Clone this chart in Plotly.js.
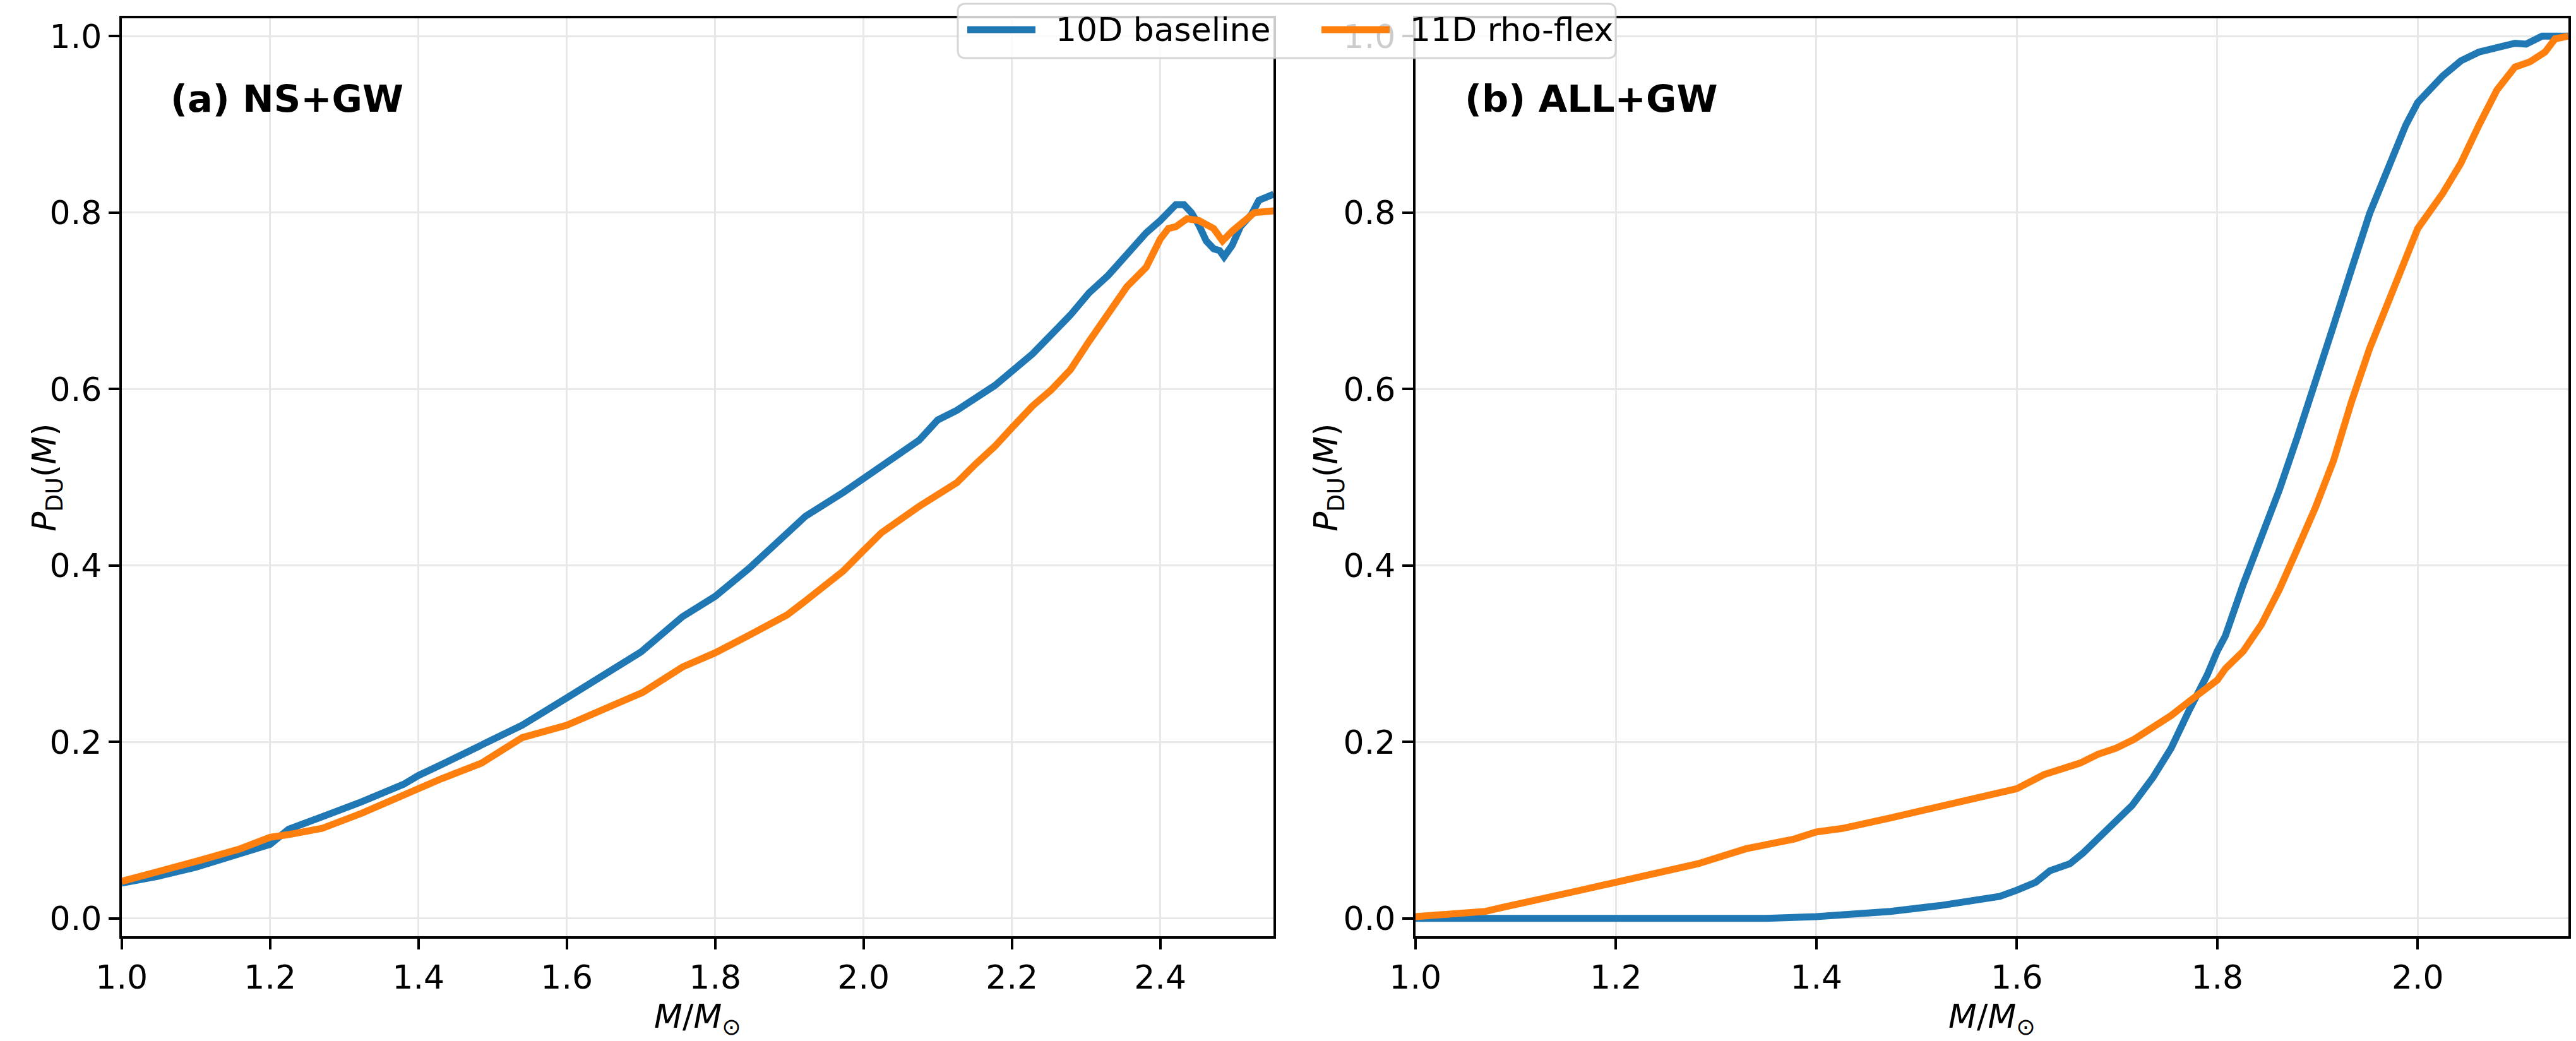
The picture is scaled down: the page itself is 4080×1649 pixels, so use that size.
<!DOCTYPE html>
<html>
<head>
<meta charset="utf-8">
<script src="https://cdn.plot.ly/plotly-3.0.1.min.js"></script>
<style>html,body{margin:0;padding:0;background:#fff;}#chart{width:4080px;height:1649px;}</style>
</head>
<body>
<div id="chart"></div>
<script>
// Panel (a) NS+GW
var nsBaseMass = [1.0,1.05,1.10,1.16,1.20,1.225,1.27,1.32,1.38,1.40,1.43,1.485,1.54,1.60,1.65,1.70,1.756,1.80,1.846,1.897,1.922,1.973,2.00,2.024,2.075,2.10,2.126,2.177,2.20,2.228,2.279,2.304,2.33,2.355,2.381,2.40,2.421,2.432,2.442,2.452,2.462,2.472,2.48,2.486,2.497,2.508,2.523,2.533,2.553];
var nsBaseP = [0.040,0.048,0.058,0.074,0.084,0.101,0.115,0.131,0.152,0.162,0.174,0.197,0.219,0.250,0.275,0.302,0.342,0.365,0.397,0.435,0.456,0.483,0.499,0.513,0.542,0.565,0.576,0.604,0.620,0.640,0.684,0.709,0.729,0.752,0.777,0.791,0.809,0.809,0.800,0.786,0.768,0.759,0.757,0.750,0.763,0.784,0.798,0.814,0.821];
var nsFlexMass = [1.0,1.05,1.106,1.16,1.20,1.225,1.27,1.323,1.377,1.40,1.43,1.485,1.54,1.60,1.648,1.702,1.756,1.80,1.846,1.897,1.922,1.973,2.00,2.024,2.075,2.126,2.151,2.177,2.20,2.228,2.253,2.279,2.304,2.33,2.355,2.381,2.40,2.411,2.421,2.436,2.452,2.472,2.484,2.497,2.512,2.527,2.553];
var nsFlexP = [0.042,0.0525,0.066,0.079,0.092,0.095,0.102,0.119,0.139,0.146,0.158,0.176,0.205,0.219,0.236,0.256,0.285,0.301,0.321,0.344,0.360,0.394,0.417,0.437,0.467,0.494,0.515,0.535,0.556,0.581,0.599,0.622,0.654,0.686,0.716,0.738,0.770,0.782,0.784,0.793,0.791,0.782,0.768,0.779,0.789,0.800,0.802];

// Panel (b) ALL+GW
var allBaseMass = [1.0,1.35,1.40,1.426,1.474,1.523,1.561,1.583,1.60,1.619,1.633,1.653,1.667,1.691,1.715,1.736,1.754,1.772,1.79,1.80,1.808,1.826,1.844,1.862,1.88,1.898,1.916,1.934,1.952,1.97,1.988,2.0,2.025,2.043,2.061,2.097,2.108,2.124,2.15];
var allBaseP = [0.0,0.0,0.002,0.004,0.008,0.0145,0.021,0.025,0.032,0.041,0.054,0.062,0.075,0.101,0.128,0.160,0.193,0.236,0.276,0.303,0.320,0.379,0.433,0.486,0.546,0.606,0.672,0.736,0.799,0.849,0.899,0.925,0.955,0.972,0.982,0.992,0.991,1.0,1.0];
var allFlexMass = [1.0,1.041,1.07,1.089,1.137,1.161,1.20,1.234,1.282,1.33,1.378,1.40,1.426,1.474,1.523,1.571,1.60,1.627,1.663,1.681,1.699,1.717,1.736,1.754,1.772,1.79,1.80,1.808,1.826,1.844,1.862,1.88,1.898,1.916,1.934,1.952,1.97,1.988,2.0,2.025,2.043,2.061,2.079,2.097,2.112,2.127,2.137,2.15];
var allFlexP = [0.002,0.005,0.008,0.013,0.024,0.031,0.041,0.049,0.062,0.079,0.090,0.098,0.102,0.114,0.127,0.140,0.147,0.163,0.176,0.186,0.193,0.203,0.216,0.230,0.246,0.260,0.270,0.283,0.303,0.333,0.373,0.419,0.466,0.519,0.586,0.646,0.699,0.752,0.782,0.822,0.856,0.899,0.939,0.965,0.971,0.982,0.997,1.0];

var seriesNames = ["10D baseline", "11D rho-flex"];
var panelTitles = ["(a) NS+GW", "(b) ALL+GW"];
var seriesColors = ["#1f77b4", "#ff7f0e"];
var FONT = "DejaVu Sans";
var W = 4080, H = 1649;

var traces = [
  {x: nsBaseMass, y: nsBaseP, type: "scatter", mode: "lines", name: seriesNames[0], legendgroup: "b",
   line: {color: seriesColors[0], width: 11}, xaxis: "x", yaxis: "y"},
  {x: nsFlexMass, y: nsFlexP, type: "scatter", mode: "lines", name: seriesNames[1], legendgroup: "f",
   line: {color: seriesColors[1], width: 11}, xaxis: "x", yaxis: "y"},
  {x: allBaseMass, y: allBaseP, type: "scatter", mode: "lines", name: seriesNames[0], legendgroup: "b",
   line: {color: seriesColors[0], width: 11}, xaxis: "x2", yaxis: "y2"},
  {x: allFlexMass, y: allFlexP, type: "scatter", mode: "lines", name: seriesNames[1], legendgroup: "f",
   line: {color: seriesColors[1], width: 11}, xaxis: "x2", yaxis: "y2"}
];

function axisBase() {
  return {
    showline: true, mirror: true, linecolor: "#000", linewidth: 4,
    ticks: "outside", ticklen: 17, tickwidth: 4, tickcolor: "#000",
    showgrid: true, gridcolor: "#e8e8e8", gridwidth: 3,
    zeroline: false, automargin: false,
    tickfont: {family: FONT, size: 52, color: "#000"},
    tickformat: ".1f", dtick: 0.2, tick0: 0
  };
}
var xa = Object.assign(axisBase(), {domain: [0.04723, 0.49446], range: [1.0, 2.553], anchor: "y"});
var ya = Object.assign(axisBase(), {domain: [0.1008, 0.9822], range: [-0.02, 1.02], anchor: "x"});
var xb = Object.assign(axisBase(), {domain: [0.54944, 0.99713], range: [1.0, 2.1505], anchor: "y2"});
var yb = Object.assign(axisBase(), {domain: [0.1008, 0.9822], range: [-0.02, 1.02], anchor: "x2"});

var ylab = "<i>P</i><sub>DU</sub>(<i>M</i>)";
var xlab = "<i>M</i>/<i>M</i><sub>⊙</sub>";

function px(v) { return v / W; }
function py(v) { return 1 - v / H; }

var annotations = [
  {text: "<b>" + panelTitles[0] + "</b>", xref: "x domain", yref: "y domain", x: 0.0415, y: 0.9128,
   xanchor: "left", yanchor: "middle", showarrow: false, font: {family: FONT, size: 59, color: "#000"}},
  {text: "<b>" + panelTitles[1] + "</b>", xref: "x2 domain", yref: "y2 domain", x: 0.0415, y: 0.9128,
   xanchor: "left", yanchor: "middle", showarrow: false, font: {family: FONT, size: 59, color: "#000"}},
  {text: xlab, xref: "paper", yref: "paper", x: 0.2708, y: py(1614), xanchor: "center", yanchor: "middle",
   showarrow: false, font: {family: FONT, size: 52, color: "#000"}},
  {text: xlab, xref: "paper", yref: "paper", x: 0.7733, y: py(1614), xanchor: "center", yanchor: "middle",
   showarrow: false, font: {family: FONT, size: 52, color: "#000"}},
  {text: ylab, xref: "paper", yref: "paper", x: px(74), y: 0.5415, xanchor: "center", yanchor: "middle",
   textangle: -90, showarrow: false, font: {family: FONT, size: 52, color: "#000"}},
  {text: ylab, xref: "paper", yref: "paper", x: px(2104), y: 0.5415, xanchor: "center", yanchor: "middle",
   textangle: -90, showarrow: false, font: {family: FONT, size: 52, color: "#000"}}
];

// Figure legend (upper centre, two columns, matplotlib-style rounded frame)
var lgBox = {x0: 1517, x1: 2559, y0: 6, y1: 92, r: 12};
var lgItems = [
  {lx0: 1532, lx1: 1640, tx: 1670},
  {lx0: 2093, lx1: 2201, tx: 2231}
];
var lgMidY = 47;
function roundedPath(b) {
  var r = b.r;
  function P(x, y) { return px(x) + "," + py(y); }
  return "M" + P(b.x0 + r, b.y0) + " L" + P(b.x1 - r, b.y0) + " Q" + P(b.x1, b.y0) + " " + P(b.x1, b.y0 + r) +
         " L" + P(b.x1, b.y1 - r) + " Q" + P(b.x1, b.y1) + " " + P(b.x1 - r, b.y1) +
         " L" + P(b.x0 + r, b.y1) + " Q" + P(b.x0, b.y1) + " " + P(b.x0, b.y1 - r) +
         " L" + P(b.x0, b.y0 + r) + " Q" + P(b.x0, b.y0) + " " + P(b.x0 + r, b.y0) + " Z";
}
var shapes = [
  {type: "path", xref: "paper", yref: "paper", path: roundedPath(lgBox), layer: "above",
   fillcolor: "rgba(255,255,255,0.8)", line: {color: "rgba(204,204,204,0.8)", width: 3}}
];
lgItems.forEach(function (it, i) {
  shapes.push({type: "line", xref: "paper", yref: "paper", x0: px(it.lx0), x1: px(it.lx1), y0: py(lgMidY), y1: py(lgMidY),
               layer: "above", line: {color: seriesColors[i], width: 11}});
  annotations.push({text: seriesNames[i], xref: "paper", yref: "paper", x: px(it.tx), y: py(lgMidY),
                    xanchor: "left", yanchor: "middle", showarrow: false,
                    font: {family: FONT, size: 52, color: "#000"}});
});

var layout = {
  width: W, height: H,
  margin: {l: 0, r: 0, t: 0, b: 0, pad: 0},
  paper_bgcolor: "#fff", plot_bgcolor: "#fff",
  font: {family: FONT, size: 52, color: "#000"},
  xaxis: xa, yaxis: ya, xaxis2: xb, yaxis2: yb,
  showlegend: false,
  shapes: shapes,
  annotations: annotations
};

Plotly.newPlot("chart", traces, layout, {staticPlot: true, responsive: false, displayModeBar: false});
</script>
</body>
</html>
